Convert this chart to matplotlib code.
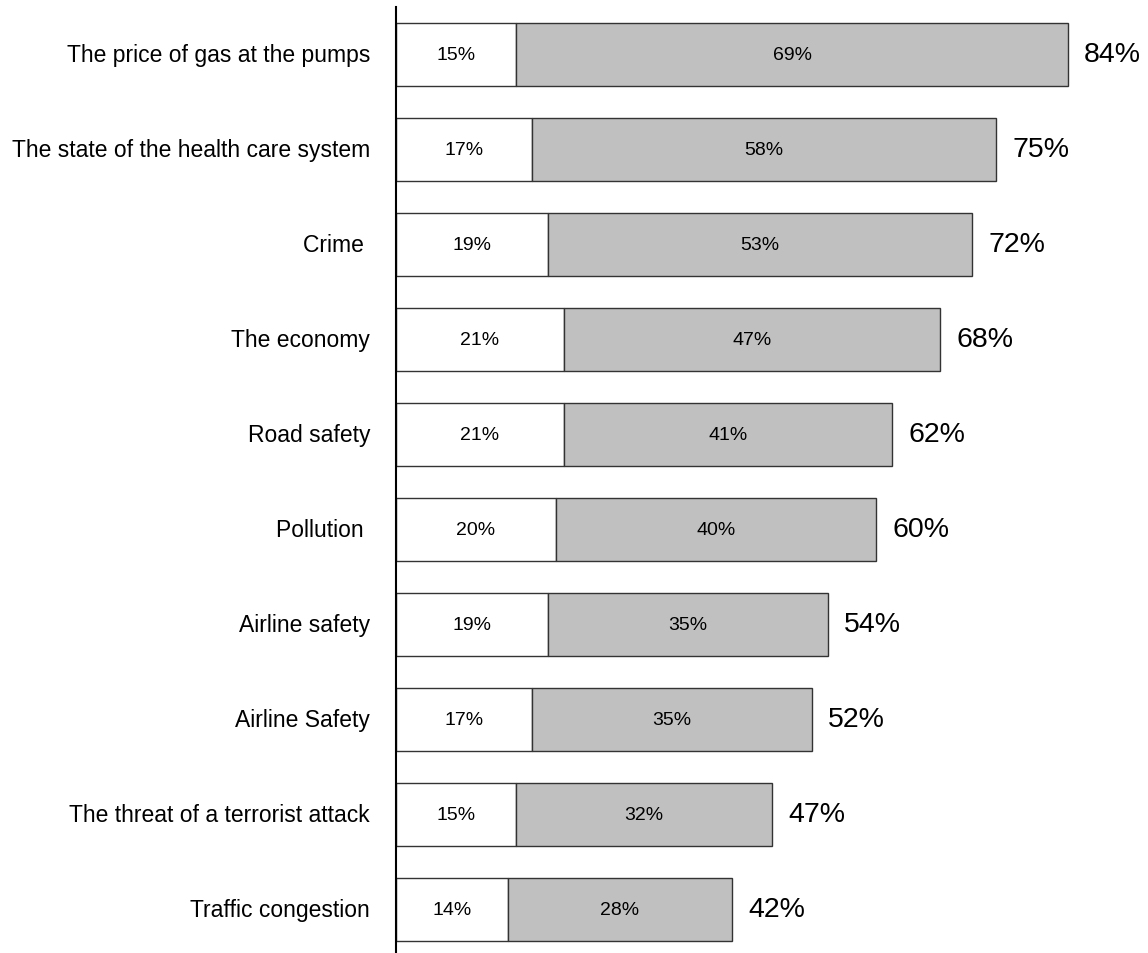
import numpy as np
import matplotlib.pyplot as plt

plt.rcParams['font.family'] = ['Liberation Sans', 'DejaVu Sans']

categories = ['The price of gas at the pumps', 'The state of the health care system',
              'Crime ', 'The economy', 'Road safety', 'Pollution ', 'Airline safety',
              'Airline Safety', 'The threat of a terrorist attack', 'Traffic congestion']
first = [15, 17, 19, 21, 21, 20, 19, 17, 15, 14]
second = [69, 58, 53, 47, 41, 40, 35, 35, 32, 28]
totals = [84, 75, 72, 68, 62, 60, 54, 52, 47, 42]

fig = plt.figure(figsize=(11.48, 9.54), dpi=100)
ax = fig.add_axes([396 / 1148, -4 / 954, 752 / 1148, 950 / 954])

y = np.arange(len(categories))
h = 0.66
ax.barh(y, first, height=h, color='white', edgecolor='#333333', linewidth=1)
ax.barh(y, second, left=first, height=h, color='#c0c0c0', edgecolor='#333333', linewidth=1)

for i in range(len(categories)):
    ax.text(first[i] / 2, y[i], '%d%%' % first[i], ha='center', va='center', fontsize=14)
    ax.text(first[i] + second[i] / 2, y[i], '%d%%' % second[i], ha='center', va='center', fontsize=14)
    ax.text(totals[i] + 2, y[i], '%d%%' % totals[i], ha='left', va='center', fontsize=20.5)
    ax.text(-3.25, y[i], categories[i], ha='right', va='center', fontsize=16.5)

ax.set_xlim(0, 94)
ax.set_ylim(len(categories) - 0.5, -0.5)
ax.set_xticks([])
ax.set_yticks([])
for s in ['top', 'right', 'bottom']:
    ax.spines[s].set_visible(False)
ax.spines['left'].set_linewidth(1.5)

fig.savefig('out.png', dpi=100)
